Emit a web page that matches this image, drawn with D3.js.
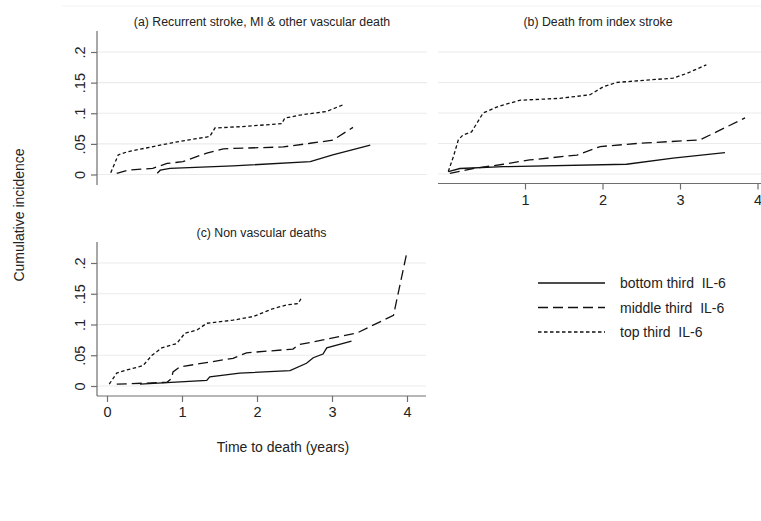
<!DOCTYPE html>
<html>
<head>
<meta charset="utf-8">
<script src="https://cdn.jsdelivr.net/npm/d3@7"></script>
<style>
  body { margin: 0; background: #fff; }
  svg { display: block; font-family: "Liberation Sans", Arial, sans-serif; }
  .grid line { stroke: #ebebeb; stroke-width: 1.2; }
  .axis path, .axis line { stroke: #6e6e6e; stroke-width: 1.2; }
  .axis text { font-size: 14.5px; fill: #222; }
  .curve { fill: none; stroke: #111; stroke-width: 1.3; }
</style>
</head>
<body>
<script>
let width = 761, height = 521;

// group labels and dash styles
let groups = ["bottom third  IL-6", "middle third  IL-6", "top third  IL-6"];
let dashes = [null, "10,5", "3.5,2.5"];

let yTicks = [0, 0.05, 0.1, 0.15, 0.2];
let yTickLabels = ["0", ".05", ".1", ".15", ".2"];
let xTicksC = [0, 1, 2, 3, 4];
let xTicksB = [1, 2, 3, 4];

// (a) Recurrent stroke, MI & other vascular death  [time, incidence]
let aBottom = [[0.67,0.002],[0.71,0.007],[0.84,0.010],[1.68,0.014],[2.71,0.021],[3.01,0.032],[3.51,0.048]];
let aMiddle = [[0.13,0.002],[0.28,0.007],[0.61,0.010],[0.8,0.018],[1.01,0.021],[1.33,0.035],[1.55,0.042],[2.35,0.045],[2.71,0.051],[3.01,0.056],[3.28,0.077]];
let aTop = [[0.05,0.003],[0.15,0.032],[0.27,0.037],[0.67,0.047],[0.97,0.054],[1.37,0.062],[1.44,0.076],[1.77,0.078],[2.33,0.083],[2.37,0.092],[2.57,0.097],[2.93,0.103],[3.15,0.114]];

// (b) Death from index stroke
let bBottom = [[0.01,0.004],[0.16,0.009],[0.72,0.012],[2.31,0.016],[2.91,0.026],[3.58,0.035]];
let bMiddle = [[0.03,0.001],[0.33,0.009],[0.72,0.016],[1.06,0.023],[1.67,0.031],[1.97,0.045],[2.44,0.050],[3.26,0.056],[3.84,0.092]];
let bTop = [[0.01,0.004],[0.075,0.028],[0.14,0.056],[0.2,0.064],[0.31,0.069],[0.46,0.1],[0.66,0.111],[0.94,0.121],[1.45,0.124],[1.84,0.13],[2.01,0.143],[2.18,0.150],[2.57,0.154],[2.91,0.157],[3.09,0.165],[3.34,0.179]];

// (c) Non vascular deaths
let cBottom = [[0.44,0.003],[1.33,0.009],[1.37,0.015],[1.77,0.021],[2.44,0.025],[2.66,0.037],[2.75,0.046],[2.88,0.052],[2.93,0.062],[3.26,0.073]];
let cMiddle = [[0.13,0.003],[0.8,0.006],[0.86,0.012],[0.88,0.023],[0.97,0.031],[1.68,0.045],[1.86,0.054],[2.48,0.060],[2.55,0.067],[3.33,0.086],[3.82,0.115],[4.0,0.218]];
let cTop = [[0.03,0.003],[0.13,0.021],[0.26,0.026],[0.48,0.033],[0.6,0.050],[0.73,0.062],[0.93,0.069],[1.04,0.086],[1.2,0.091],[1.33,0.102],[1.68,0.107],[1.95,0.113],[2.22,0.126],[2.4,0.132],[2.55,0.134],[2.6,0.145]];

let svg = d3.select('body').append('svg')
    .attr('width', width)
    .attr('height', height);

// faint outer border line at top
svg.append('line')
    .attr('x1', 62).attr('x2', width).attr('y1', 6).attr('y2', 6)
    .attr('stroke', '#f2f2f2').attr('stroke-width', 1);

let panels = [
    { title: "(a) Recurrent stroke, MI & other vascular death", series: [aBottom, aMiddle, aTop],
      left: 97, right: 427, top: 31, bottom: 185,
      x: d3.scaleLinear().domain([0, 4]).range([107, 407]),
      y: d3.scaleLinear().domain([0, 0.2]).range([174.5, 52]),
      yAxis: true, xTicks: null, titleY: 26 },
    { title: "(b) Death from index stroke", series: [bBottom, bMiddle, bTop],
      left: 438, right: 770, top: 31, bottom: 183.5,
      x: d3.scaleLinear().domain([0, 4]).range([447.5, 757.5]),
      y: d3.scaleLinear().domain([0, 0.2]).range([174, 52]),
      yAxis: false, xTicks: xTicksB, titleY: 26 },
    { title: "(c) Non vascular deaths", series: [cBottom, cMiddle, cTop],
      left: 97, right: 426, top: 242, bottom: 396,
      x: d3.scaleLinear().domain([0, 4]).range([107, 407]),
      y: d3.scaleLinear().domain([0, 0.2]).range([386, 263]),
      yAxis: true, xTicks: xTicksC, titleY: 237 }
];

panels.forEach(p => {
    let g = svg.append('g');

    // gridlines
    g.append('g').attr('class', 'grid')
        .selectAll('line').data(yTicks).enter().append('line')
        .attr('x1', p.left).attr('x2', p.right)
        .attr('y1', d => p.y(d)).attr('y2', d => p.y(d));

    // title
    g.append('text')
        .attr('x', (p.left + p.right) / 2 + (p.yAxis ? 0 : -6))
        .attr('y', p.titleY)
        .attr('text-anchor', 'middle')
        .attr('font-size', 12.3)
        .attr('fill', '#222')
        .text(p.title);

    if (p.yAxis) {
        let ya = g.append('g').attr('class', 'axis')
            .attr('transform', 'translate(' + p.left + ',0)')
            .call(d3.axisLeft(p.y).tickValues(yTicks).tickSize(6).tickPadding(4)
                .tickFormat((d, i) => yTickLabels[i]));
        ya.select('.domain').attr('d', 'M0,' + p.top + 'V' + p.bottom);
        ya.selectAll('.tick text')
            .attr('transform', 'rotate(-90)')
            .attr('x', 0).attr('y', -12)
            .attr('dy', 0)
            .attr('text-anchor', 'middle');
    }

    if (p.xTicks) {
        let xa = g.append('g').attr('class', 'axis')
            .attr('transform', 'translate(0,' + p.bottom + ')')
            .call(d3.axisBottom(p.x).tickValues(p.xTicks).tickSize(6).tickPadding(5)
                .tickFormat(d3.format('d')));
        xa.select('.domain').attr('d', 'M' + p.left + ',0H' + p.right);
    }

    let line = d3.line().x(d => p.x(d[0])).y(d => p.y(d[1]));
    p.series.forEach((s, i) => {
        g.append('path')
            .datum(s)
            .attr('class', 'curve')
            .attr('stroke-dasharray', dashes[i])
            .attr('d', line);
    });
});

// y axis title
svg.append('text')
    .attr('transform', 'translate(24,215) rotate(-90)')
    .attr('text-anchor', 'middle')
    .attr('font-size', 14)
    .attr('fill', '#222')
    .text('Cumulative incidence');

// x axis title
svg.append('text')
    .attr('x', 283).attr('y', 452)
    .attr('text-anchor', 'middle')
    .attr('font-size', 14)
    .attr('fill', '#222')
    .text('Time to death (years)');

// legend
let legend = svg.append('g');
let legendY = d3.scalePoint().domain(groups).range([283, 332]);
groups.forEach((name, i) => {
    legend.append('line')
        .attr('x1', 538).attr('x2', 605)
        .attr('y1', legendY(name)).attr('y2', legendY(name))
        .attr('stroke', '#111').attr('stroke-width', 1.3)
        .attr('stroke-dasharray', dashes[i]);
    legend.append('text')
        .attr('x', 620).attr('y', legendY(name) + 5)
        .attr('font-size', 14)
        .attr('fill', '#222')
        .attr('xml:space', 'preserve')
        .style('white-space', 'pre')
        .text(name);
});
</script>
</body>
</html>
